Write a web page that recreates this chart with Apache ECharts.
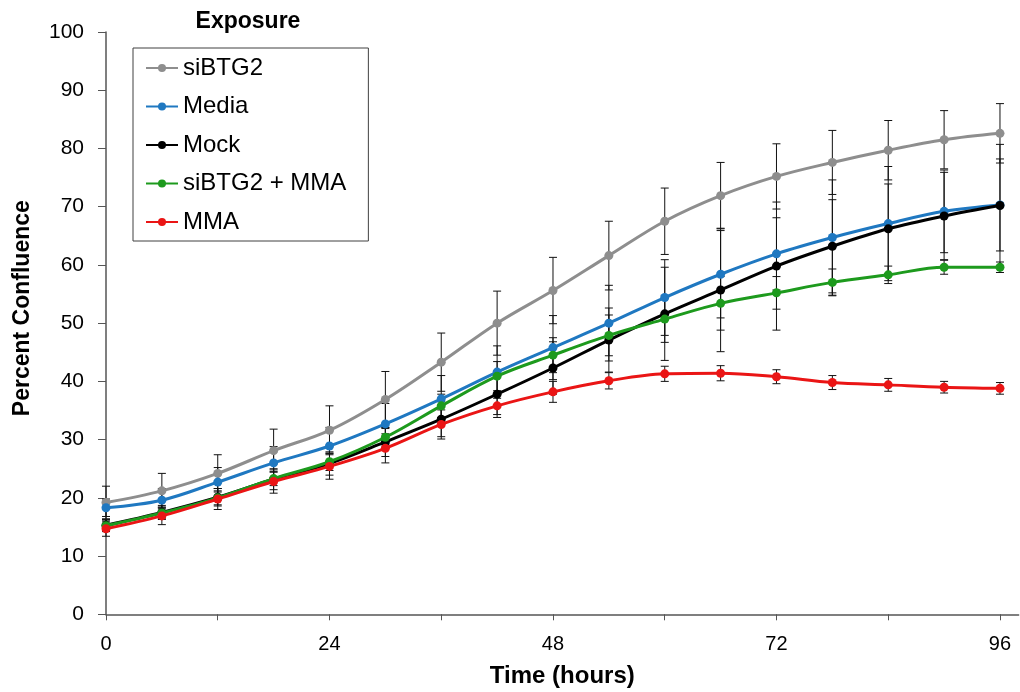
<!DOCTYPE html>
<html>
<head>
<meta charset="utf-8">
<title>Percent Confluence</title>
<script src="https://cdn.jsdelivr.net/npm/echarts@6/dist/echarts.min.js"></script>
<style>
html, body { margin: 0; padding: 0; background: #fff; }
#main { width: 1020px; height: 692px; }
</style>
</head>
<body>
<div id="main"></div>
<script>
// time points (hours)
var hours = [0, 6, 12, 18, 24, 30, 36, 42, 48, 54, 60, 66, 72, 78, 84, 90, 96];

// mean percent confluence
var siBTG2 = [19.2, 21.2, 24.2, 28.1, 31.6, 36.9, 43.3, 50.0, 55.6, 61.6, 67.5, 71.9, 75.2, 77.6, 79.7, 81.5, 82.6];
var media  = [18.3, 19.6, 22.7, 26.0, 28.9, 32.7, 37.0, 41.6, 45.8, 50.0, 54.4, 58.4, 61.9, 64.7, 67.1, 69.2, 70.3];
var mock   = [15.3, 17.5, 20.1, 23.2, 25.9, 29.6, 33.5, 37.8, 42.3, 47.1, 51.6, 55.7, 59.8, 63.2, 66.2, 68.4, 70.2];
var combo  = [15.2, 17.4, 20.0, 23.3, 26.2, 30.4, 35.8, 40.9, 44.5, 47.9, 50.7, 53.4, 55.2, 57.0, 58.3, 59.6, 59.6];
var mma    = [14.7, 16.9, 19.8, 22.8, 25.4, 28.5, 32.6, 35.8, 38.2, 40.1, 41.3, 41.4, 40.8, 39.8, 39.4, 39.0, 38.8];

// error bar half widths (+/-)
var siBTG2Err = [2.8, 3.0, 3.2, 3.7, 4.2, 4.8, 5.0, 5.5, 5.7, 5.9, 5.7, 5.7, 5.6, 5.5, 5.1, 5.0, 5.1];
var mediaErr  = [1.5, 2.0, 2.5, 2.8, 3.2, 3.5, 4.0, 4.5, 5.5, 6.5, 6.5, 7.5, 6.2, 9.9, 9.8, 7.1, 7.9];
var mockErr   = [1.0, 1.2, 1.5, 1.8, 2.0, 2.5, 3.0, 3.5, 4.5, 5.5, 8.0, 10.6, 11.0, 8.0, 7.7, 7.5, 10.5];
var comboErr  = [1.0, 1.0, 1.2, 1.2, 1.5, 1.5, 2.0, 2.5, 3.0, 3.5, 4.0, 4.6, 2.8, 2.3, 1.5, 1.2, 0.9];
var mmaErr    = [1.3, 1.5, 1.8, 2.0, 2.2, 2.5, 2.5, 2.0, 1.8, 1.4, 1.3, 1.3, 1.2, 1.2, 1.1, 1.0, 1.0];

var names  = ['siBTG2', 'Media', 'Mock', 'siBTG2 + MMA', 'MMA'];
var colors = ['#8e8e8e', '#1f78c1', '#000000', '#1d9a1d', '#ea1515'];
var means  = [siBTG2, media, mock, combo, mma];
var errs   = [siBTG2Err, mediaErr, mockErr, comboErr, mmaErr];

var font = "'Liberation Sans', Arial, sans-serif";

function pairs(ys) {
    return hours.map(function (h, i) { return [h, ys[i]]; });
}
function bars(ys, es) {
    return hours.map(function (h, i) { return [h, ys[i] - es[i], ys[i] + es[i]]; });
}

function renderErr(params, api) {
    var lo = api.coord([api.value(0), api.value(1)]);
    var hi = api.coord([api.value(0), api.value(2)]);
    var w = 4;
    var st = { stroke: '#111', lineWidth: 1 };
    return {
        type: 'group',
        children: [
            { type: 'line', shape: { x1: lo[0], y1: lo[1], x2: hi[0], y2: hi[1] }, style: st },
            { type: 'line', shape: { x1: lo[0] - w, y1: lo[1], x2: lo[0] + w, y2: lo[1] }, style: st },
            { type: 'line', shape: { x1: hi[0] - w, y1: hi[1], x2: hi[0] + w, y2: hi[1] }, style: st }
        ]
    };
}

var series = [];
for (var i = 0; i < names.length; i++) {
    series.push({
        name: names[i] + ' err',
        type: 'custom',
        renderItem: renderErr,
        data: bars(means[i], errs[i]),
        encode: { x: 0, y: [1, 2] },
        z: 1,
        silent: true
    });
}
for (var j = 0; j < names.length; j++) {
    series.push({
        name: names[j],
        type: 'line',
        data: pairs(means[j]),
        smooth: 0.35,
        symbol: 'circle',
        symbolSize: 9,
        color: colors[j],
        lineStyle: { width: 3, color: colors[j] },
        itemStyle: { color: colors[j] },
        z: 2 + j
    });
}

var myChart = echarts.init(document.getElementById('main'));
var option = {
    backgroundColor: '#fff',
    animation: false,
    textStyle: { fontFamily: font },
    title: {
        text: 'Exposure',
        left: 248,
        top: 10,
        textAlign: 'center',
        padding: 0,
        textStyle: { fontFamily: font, fontSize: 23, fontWeight: 'bold', color: '#000' }
    },
    legend: {
        data: names,
        orient: 'vertical',
        left: 133,
        top: 48,
        padding: [8, 22, 7, 12],
        itemGap: 14.5,
        itemWidth: 32,
        itemHeight: 10,
        backgroundColor: '#fff',
        borderColor: '#404040',
        borderWidth: 1,
        textStyle: { fontFamily: font, fontSize: 24, color: '#000', lineHeight: 24 }
    },
    grid: {
        left: 106,
        top: 32,
        width: 912.6,
        height: 582.3,
        containLabel: false,
        outerBoundsMode: 'none'
    },
    xAxis: {
        type: 'value',
        min: 0,
        max: 98,
        interval: 12,
        name: 'Time (hours)',
        nameLocation: 'middle',
        nameGap: 50,
        nameTextStyle: { fontFamily: font, fontSize: 24, fontWeight: 'bold', color: '#000' },
        axisLine: { show: true, lineStyle: { color: '#555', width: 1.5 } },
        axisTick: { show: true, length: 6, lineStyle: { color: '#555' },
            customValues: [0, 12, 24, 36, 48, 60, 72, 84, 96] },
        axisLabel: { fontFamily: font, fontSize: 20, color: '#000', margin: 20,
            customValues: [0, 24, 48, 72, 96] },
        splitLine: { show: false }
    },
    yAxis: {
        type: 'value',
        min: 0,
        max: 100,
        interval: 10,
        name: 'Percent Confluence',
        nameLocation: 'middle',
        nameGap: 72,
        nameTextStyle: { fontFamily: font, fontSize: 23, fontWeight: 'bold', color: '#000',
            padding: [0, 0, 0, 30] },
        axisLine: { show: true, lineStyle: { color: '#555', width: 1.5 } },
        axisTick: { show: true, length: 8, lineStyle: { color: '#555' } },
        axisLabel: { fontFamily: font, fontSize: 21, color: '#000', margin: 22 },
        splitLine: { show: false }
    },
    series: series
};
myChart.setOption(option);
</script>
</body>
</html>
